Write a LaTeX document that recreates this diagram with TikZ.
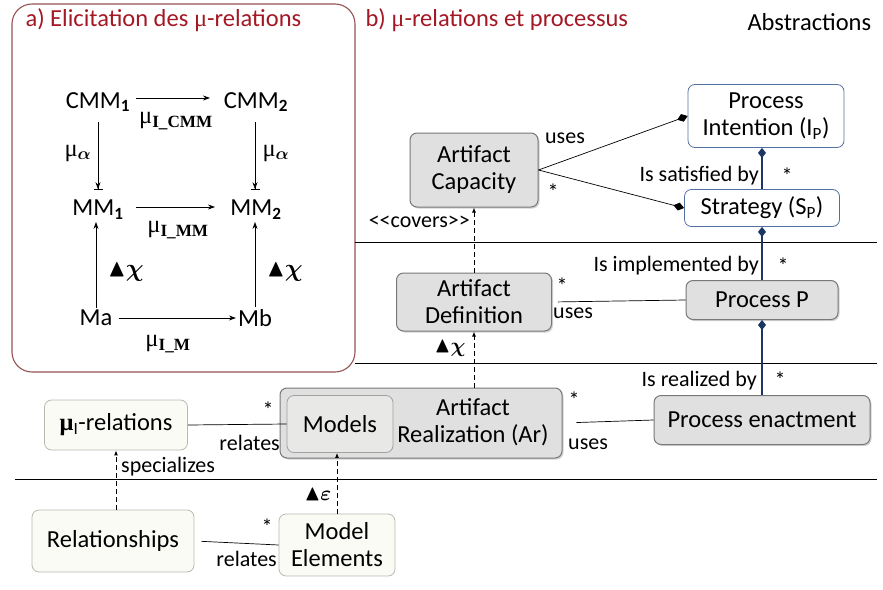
\documentclass[tikz,border=0pt]{standalone}
\usepackage{amsmath}
\usepackage{amssymb}
\usepackage{fontspec}
\setmainfont{Carlito}
\newfontfamily\greekserif{Liberation Serif}
\usepackage{tikz}
\usetikzlibrary{arrows.meta,positioning,shadows}
\definecolor{titlered}{RGB}{163,24,36}
\definecolor{framered}{RGB}{150,82,82}
\definecolor{boxgray}{RGB}{120,120,120}
\definecolor{boxfill}{RGB}{224,224,224}
\definecolor{palegray}{RGB}{185,185,180}
\definecolor{palefill}{RGB}{251,251,246}
\definecolor{goalblue}{RGB}{84,112,160}
\definecolor{navy}{RGB}{28,54,100}
\newcommand{\greekmu}{{\greekserif μ}}
\newcommand{\muidx}[1]{{\greekserif μ\textsubscript{\bfseries #1}}}
\newcommand{\trichi}{$\blacktriangle\boldsymbol{\chi}$}
\newcommand{\trieps}{$\blacktriangle\boldsymbol{\varepsilon}$}

\begin{document}
\begin{tikzpicture}[
    x=1pt, y=-1pt,
    font=\fontsize{24.5}{27}\selectfont,
    grey/.style={draw=boxgray, fill=boxfill, rounded corners=7pt, line width=1pt, align=center, inner sep=2pt,
      drop shadow={shadow xshift=1.5pt, shadow yshift=-1.5pt, opacity=.35}},
    pale/.style={draw=palegray, fill=palefill, rounded corners=7pt, line width=.8pt, align=center, inner sep=2pt},
    goal/.style={draw=goalblue, fill=white, rounded corners=7pt, line width=.8pt, align=center, inner sep=2pt},
    lbl/.style={font=\fontsize{22}{24}\selectfont, inner sep=1pt},
    term/.style={inner sep=2pt},
    lnk/.style={line width=.7pt},
    agg/.style={-{Diamond[length=11pt,width=8pt]}, line width=.7pt},
    comp/.style={{Diamond[length=10pt,width=8pt]}-, draw=navy, line width=1.6pt},
    dep/.style={-{Latex[length=5pt,width=4pt]}, dash pattern=on 5pt off 3pt, line width=.9pt},
    map/.style={-{Stealth[length=7pt,width=5pt]}, line width=.7pt},
    mapbar/.style={-{Stealth[length=7pt,width=5pt]Bar[width=9pt,line width=.8pt]}, line width=.7pt}]
  \useasboundingbox (0,0) rectangle (883,589);

  % part a)
  \draw[framered, line width=1.1pt, rounded corners=20pt] (12,4) rectangle (355,372);
  \node[anchor=west, text=titlered] (titlea) at (22,20) {a) Elicitation des \greekmu-relations};
  \node[term] (cmm1) at (98,102) {CMM\textsubscript{\bfseries 1}};
  \node[term] (cmm2) at (256,102) {CMM\textsubscript{\bfseries 2}};
  \node[term] (mm1) at (98,210) {MM\textsubscript{\bfseries 1}};
  \node[term] (mm2) at (256,210) {MM\textsubscript{\bfseries 2}};
  \node[term] (ma) at (96,318) {Ma};
  \node[term] (mb) at (255,318) {Mb};
  \draw[map] (cmm1.east) ++(4,-4) coordinate (c1) -- (210,98) coordinate (c2);
  \draw[mapbar, shorten >=2pt] (98,122) coordinate (v1) -- (98,192) coordinate (v2);
  \draw[mapbar, shorten >=2pt] (255,122) coordinate (v3) -- (255,192) coordinate (v4);
  \draw[map] (136,207) coordinate (m1) -- (215,207) coordinate (m2);
  \draw[map] (ma.north) -- (ma.north |- mm1.south);
  \draw[map] (mb.north) -- (mb.north |- mm2.south);
  \draw[map, shorten <=4pt] (ma.east) -- (mb.west);
  \node (lcmm) at (176,121) {\muidx{I\_CMM}};
  \node (lal) at (78,153) {\greekmu$_{\boldsymbol{\alpha}}$};
  \node (lar) at (276,153) {\greekmu$_{\boldsymbol{\alpha}}$};
  \node (lmm) at (178,230) {\muidx{I\_MM}};
  \node (lchl) at (126,272) {\trichi};
  \node (lchr) at (285,272) {\trichi};
  \node (lm) at (168,344) {\muidx{I\_M}};

  % part b)
  \node[anchor=west, text=titlered] (titleb) at (362,20) {b) \greekmu-relations et processus};
  \node[anchor=west] (abs) at (744,22) {Abstractions};
  \draw[lnk] (355,242) -- (877,242);
  \draw[lnk] (355,363) -- (877,363);
  \draw[lnk] (15,479) -- (877,479);

  \node[grey, minimum width=128, minimum height=74] (cap) at (474,170) {Artifact\\Capacity};
  \node[goal, minimum width=156, minimum height=63] (pi) at (766,116) {Process\\Intention (I\textsubscript{P})};
  \node[goal, minimum width=155, minimum height=37] (sp) at (762,208) {Strategy (S\textsubscript{P})};
  \node[grey, minimum width=155, minimum height=58] (def) at (474,302) {Artifact\\Definition};
  \node[grey, minimum width=152, minimum height=39] (pp) at (762,300) {Process P};
  \node[grey, minimum width=216, minimum height=49] (pe) at (762,420) {Process enactment};
  \node[grey, minimum width=282, minimum height=70] (ar) at (421,423) {};
  \node[align=center] (artext) at (473,422) {Artifact\\Realization (Ar)};
  \node[pale, fill=boxfill!70!palefill, draw=boxgray!70, minimum width=106, minimum height=57] (models) at (340,424) {Models};
  \node[pale, minimum width=143, minimum height=50] (mur) at (116,425) {\textbf{\greekmu}\textsubscript{I}-relations};
  \node[pale, minimum width=162, minimum height=62] (rel) at (113,541) {Relationships};
  \node[pale, minimum width=116, minimum height=62] (me) at (337,545) {Model\\Elements};

  \draw[agg] (cap.east) -- (pi.west);
  \draw[agg] (cap.east) -- (sp.west);
  \draw[comp] (sp.north |- pi.south) -- (sp.north);
  \draw[comp] (sp.south) -- (pp.north);
  \draw[comp] (pp.south) -- (pe.north);
  \draw[lnk, shorten <=6pt] (def.east) -- (pp.west);
  \draw[lnk, shorten <=14pt] (ar.east) -- (pe.west);
  \draw[lnk] (mur.east) -- (models.west);
  \draw[lnk, shorten <=7pt] (rel.east) -- (me.west);
  \draw[dep] (def.north) -- (cap.south);
  \draw[dep] (ar.north -| def.south) -- (def.south);
  \draw[dep] (rel.north -| mur.south) -- (mur.south);
  \draw[dep] (me.north) -- (me.north |- models.south);

  \node[lbl] (u1) at (565,138) {uses};
  \node[lbl] (s1) at (553,192) {*};
  \node[lbl, anchor=east] (sat) at (760,176) {Is satisfied by};
  \node[lbl] (s2) at (787,176) {*};
  \node[lbl, anchor=east] (impl) at (760,266) {Is implemented by};
  \node[lbl] (s3) at (783,266) {*};
  \node[lbl, anchor=east] (real) at (758,381) {Is realized by};
  \node[lbl] (s4) at (780,380) {*};
  \node[lbl, anchor=east] (cov) at (471,222) {<\kern0pt<covers>\kern0pt>};
  \node[lbl] (s5) at (562,286) {*};
  \node[lbl, anchor=west] (u2) at (552,313) {uses};
  \node[lbl] (chi) at (450,348) {\trichi};
  \node[lbl] (s6) at (574,400) {*};
  \node[lbl, anchor=west] (u3) at (567,444) {uses};
  \node[lbl] (s7) at (268,410) {*};
  \node[lbl, anchor=east] (r1) at (281,443) {relates};
  \node[lbl, anchor=west] (spec) at (120,467) {specializes};
  \node[lbl] (s8) at (267,527) {*};
  \node[lbl, anchor=east] (r2) at (278,559) {relates};
  \node[lbl] (eps) at (318,494) {\trieps};
\end{tikzpicture}
\end{document}
